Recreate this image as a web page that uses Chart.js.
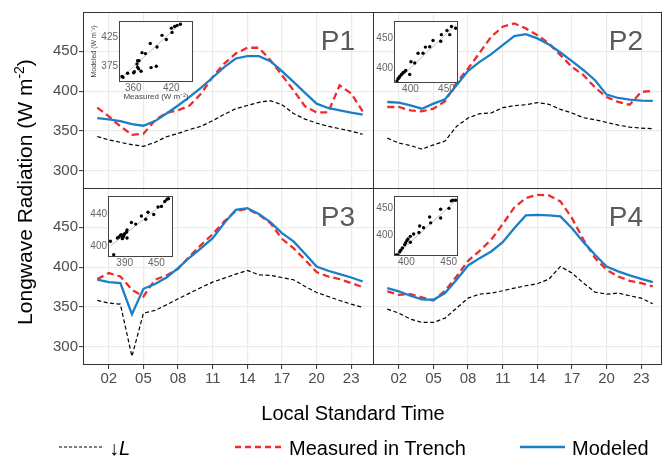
<!DOCTYPE html>
<html><head><meta charset="utf-8">
<script src="https://cdn.jsdelivr.net/npm/chart.js@4/dist/chart.umd.min.js"></script>
<style>
html,body{margin:0;padding:0;background:#fff;font-family:"Liberation Sans",Arial,sans-serif}
#root{position:relative;width:662px;height:457px;overflow:hidden;background:#fff}
canvas{position:absolute}
.txt{position:absolute;white-space:nowrap;color:#000;font-family:"Liberation Sans",Arial,sans-serif}
</style></head><body><div id="root">
<div id="overlay" style="position:absolute;left:0;top:0;width:662px;height:457px;pointer-events:none;z-index:3">
  <div class="txt" style="left:-125px;top:180px;width:300px;text-align:center;font-size:21px;line-height:24px;transform:rotate(-90deg)">Longwave Radiation (W m<sup style="font-size:14px;line-height:0">-2</sup>)</div>
  <div class="txt" style="left:203px;top:401px;width:300px;text-align:center;font-size:20px;line-height:24px">Local Standard Time</div>
  <svg style="position:absolute;left:0;top:436px" width="662" height="22">
    <line x1="59" y1="11" x2="103" y2="11" stroke="#000" stroke-width="1.2" stroke-dasharray="3,2"/>
    <line x1="235" y1="11" x2="281" y2="11" stroke="#ee2c2c" stroke-width="2.3" stroke-dasharray="6,4"/>
    <line x1="520" y1="11" x2="565" y2="11" stroke="#1b7fc8" stroke-width="2.3"/>
  </svg>
  <div class="txt" style="left:109px;top:437px;font-size:20px;line-height:22px">↓<i>L</i></div>
  <div class="txt" style="left:289px;top:437px;font-size:20px;line-height:22px">Measured in Trench</div>
  <div class="txt" style="left:572px;top:437px;font-size:20px;line-height:22px">Modeled</div>
</div>
</div>
<script>
// ---------- data ----------
const hours = [1,2,3,4,5,6,7,8,9,10,11,12,13,14,15,16,17,18,19,20,21,22,23,24];
const xTickHours = [2,5,8,11,14,17,20,23];
const xTickLabels = ['02','05','08','11','14','17','20','23'];
const yTickValues = [300,350,400,450];

const p1Down = [343.3,339,336,333,331,336,343,347,352,356,363,371,378,382,386,388,383,372,365,360,356,353,350,346];
const p1Meas = [379.3,368.4,355.9,345.4,346.7,363.4,373,376,382,396.9,417.8,434.5,447,454.2,454.2,438.7,419.9,401,381,373.4,373.4,407.3,397,374.7];
const p1Mod  = [366.3,364.6,362.5,358.8,356.7,362.5,372,382,392.7,404.4,417,430,440.8,443.7,443.7,437.4,425,411.5,397.7,384.3,378.9,376,373,370.5];

const p2Down = [341.2,335,332,327.4,332.8,337.5,355.9,366.3,371.8,372.6,379.3,381.8,383,385.6,383.5,377.2,372.6,366.7,364.2,360.9,357.5,355,353.8,352.9];
const p2Meas = [380.1,380.1,376,374.7,378,387.2,410.3,428.2,447.9,468,480.5,484.7,478.4,470,459.6,445,430.3,419.9,404.4,392.7,386.4,383,399,400.2];
const p2Mod  = [386.4,385.6,382.2,378,384.3,389.8,407.3,425.3,436.6,446.2,457.5,468.8,471.3,465.9,458.4,448.3,437.4,426.1,413.6,395.6,391.4,389.3,388.1,387.7];

const p3Down = [358.3,355,353.7,288.3,342.5,345.8,352.9,360.4,367.5,374.6,381.2,386.2,391.2,395.8,390.4,389.6,387,384.2,375.8,368.3,363.3,358.3,353.7,349.6];
const p3Meas = [385,392.5,388.3,371.7,363.3,384.2,389.6,397.9,413.3,427.9,441.2,457.1,470.4,472.9,465.4,455,435.4,423.7,409.2,393.7,388.3,385,380,375];
const p3Mod  = [384.2,381.2,380,341.2,372.9,378.8,387,398.8,412,423.7,436.2,455,471.7,473.8,466.3,456.2,442.5,432.1,416.7,400.8,395.4,391.2,387,382];

const p4Down = [347.5,342.5,335,330.8,330.8,336.2,348.7,361.2,366.2,367.5,370.4,373.7,376.7,379.2,385,400.8,392.5,380,368.7,366.2,367.5,364.2,361.2,354.2];
const p4Meas = [369.6,365.4,366.2,362.1,358.3,370.4,388.3,407.9,420.4,434.2,453.7,474.6,486.2,490.4,489.6,482.1,461.2,434.2,411.2,396.7,388.3,382.9,380,375.8];
const p4Mod  = [373.7,369.6,364.2,359.6,359.2,367.5,384.2,402.1,411.2,419.6,431.2,448.7,464.6,465.4,464.6,463.3,448.7,431.2,415.4,400.8,394.6,389.6,385.4,381.2];

// inset scatter: measured (x) vs modeled (y)
const in1Meas = [342.2,343.7,351,360.5,361.6,366.8,369,365.8,366.8,368.4,372.2,373.7,379,386.8,388,396.3,397.4,405.3,412.1,420,421.1,429,434.2,425.2];
const in1Mod  = [357.8,356.2,363.3,364,365.7,384.5,384.5,379,373.3,370.7,366.7,398.3,396.7,414,372.8,375,407.8,427.8,420.7,440,432.8,444.5,446.7,442.8];
const in1LineX = [339.5,436], in1LineY = [354,449.5];
const in1TicksX = [360,420], in1TicksY = [375,425];

const in2Meas = [381.4,382.8,385.1,387.5,389.7,393.5,399,400.8,406,410.6,417.5,420.8,426.8,431.4,442.1,443,450.8,454.6,457,462.9,384.2,391.7];
const in2Mod  = [377.7,381.7,385.5,388.8,391.7,395.5,388.8,410.5,408.3,425,425,435.5,436,446.7,445.5,456.7,463.8,456.7,470.5,467.7,383.3,393.3];
const in2LineX = [380.6,462.9], in2LineY = [377.2,473.3];
const in2TicksX = [400,450], in2TicksY = [400,450];

const in3Meas = [362.9,369.2,376.2,379.2,381.9,383.8,385.6,386.8,388.1,390,393.2,394.4,394.4,402.7,410.8,421.6,429.8,434.1,444.9,453.1,459.5,465.8,470.1,472.8];
const in3Mod  = [406,389.2,410,411.2,413.2,414,409.2,411.2,412.4,415.2,417.2,410,420,429.2,427.2,437.2,433.2,442,439.2,448.4,449.2,455.2,458,458.8];
const in3LineX = [363.5,475.2], in3LineY = [400.4,459.2];
const in3TicksX = [390,450], in3TicksY = [400,440];

const in4Meas = [388.2,390.1,392.1,393.3,395.3,398,399.2,400.7,401.9,404.7,404.7,408.6,414.9,415.7,420.4,427.5,428.7,440.5,440.5,450.3,453.1,455,458.2];
const in4Mod  = [362.6,362.6,368.5,371.6,375.8,381.9,385.5,389.7,392.8,386.6,397.5,401.8,404.7,416.8,413.7,433.6,422.8,448.1,431.8,449.9,463.8,465.1,465.1];
const in4LineX = [389.4,459.7], in4LineY = [364.4,466.2];
const in4TicksX = [400,450], in4TicksY = [400,450];

// ---------- rendering ----------
Chart.defaults.font.family = '"Liberation Sans", Arial, sans-serif';
const root = document.getElementById('root');
function mkCanvas(left, top, w, h, z){
  const c = document.createElement('canvas');
  c.width = w; c.height = h;
  c.style.left = left+'px'; c.style.top = top+'px';
  c.style.width = w+'px'; c.style.height = h+'px';
  c.style.zIndex = z;
  root.appendChild(c);
  return c.getContext('2d');
}
const pts = (xs, ys) => xs.map((x,i)=>({x:x, y:ys[i]}));
function noPad(s){ s.paddingTop = 0; s.paddingBottom = 0; s.paddingLeft = 0; s.paddingRight = 0; }

const panelPlugin = {
  id:'panelDecor',
  afterDraw(chart, args, opts){
    const {ctx, chartArea:a} = chart;
    ctx.save();
    ctx.strokeStyle = '#333333'; ctx.lineWidth = 1;
    ctx.strokeRect(a.left+0.5, a.top+0.5, a.right-a.left-1, a.bottom-a.top-1);
    if (opts && opts.label){
      ctx.fillStyle = '#5a5a5a';
      ctx.font = '28px "Liberation Sans", Arial, sans-serif';
      ctx.textAlign = 'right'; ctx.textBaseline = 'alphabetic';
      ctx.fillText(opts.label, a.right - 19, a.top + 38);
    }
    ctx.restore();
  }
};

const insetPlugin = {
  id:'insetDecor',
  beforeDraw(chart){
    const {ctx, chartArea:a} = chart;
    ctx.save(); ctx.fillStyle = '#ffffff';
    ctx.fillRect(a.left, a.top, a.right-a.left, a.bottom-a.top);
    ctx.restore();
  },
  afterDraw(chart){
    const {ctx, chartArea:a} = chart;
    ctx.save(); ctx.strokeStyle = '#444444'; ctx.lineWidth = 1;
    ctx.strokeRect(a.left+0.5, a.top+0.5, a.right-a.left-1, a.bottom-a.top-1);
    ctx.restore();
  }
};

function panel(p){
  const ctx = mkCanvas(p.left, p.top, p.w, p.h, 1);
  new Chart(ctx, {
    type:'scatter',
    data:{ datasets:[
      { data: pts(hours, p.mod), showLine:true, borderColor:'#1b7fc8', borderWidth:2.3, pointRadius:0, tension:0 },
      { data: pts(hours, p.meas), showLine:true, borderColor:'#ee2c2c', borderWidth:2.3, borderDash:[7,4], pointRadius:0, tension:0 },
      { data: pts(hours, p.down), showLine:true, borderColor:'#000000', borderWidth:1.2, borderDash:[4,2.5], pointRadius:0, tension:0 }
    ]},
    options:{
      responsive:false, animation:false, devicePixelRatio:1,
      layout:{ padding:{ top:p.padTop, left:0, right:0, bottom:0 } },
      plugins:{ legend:{display:false}, tooltip:{enabled:false}, panelDecor:{label:p.label} },
      scales:{
        x:{ type:'linear', min:-0.239, max:p.xMax,
            afterBuildTicks:(s)=>{ s.ticks = xTickHours.map(v=>({value:v})); },
            afterFit:(s)=>{ s.height = p.xH; noPad(s); },
            border:{display:false},
            grid:{ color:'#ebebeb', lineWidth:1.2, drawTicks:p.showX, tickLength:4, tickColor:'#333333', tickWidth:1 },
            ticks:{ display:p.showX, autoSkip:false, maxRotation:0, padding:1, color:'#4d4d4d', font:{size:15},
                    callback:(v)=>xTickLabels[xTickHours.indexOf(v)] } },
        y:{ type:'linear', min:277.6, max:498.9,
            afterBuildTicks:(s)=>{ s.ticks = yTickValues.map(v=>({value:v})); },
            afterFit:(s)=>{ s.width = p.yW; noPad(s); },
            border:{display:false},
            grid:{ color:'#ebebeb', lineWidth:1.2, drawTicks:p.showY, tickLength:4, tickColor:'#333333', tickWidth:1 },
            ticks:{ display:p.showY, autoSkip:false, padding:1, color:'#4d4d4d', font:{size:15} } }
      }
    },
    plugins:[panelPlugin]
  });
}

function inset(q){
  const ctx = mkCanvas(q.fl - q.yW, q.ft - 2, q.fw + q.yW + 4, q.fh + 2 + q.xH, 2);
  const titles = !!q.titles;
  new Chart(ctx, {
    type:'scatter',
    data:{ datasets:[
      { data: pts(q.mx, q.my), pointRadius:1.7, pointBackgroundColor:'#000', pointBorderWidth:0, showLine:false },
      { data: pts(q.lx, q.ly), showLine:true, borderColor:'#bdbdbd', borderWidth:1, pointRadius:0 }
    ]},
    options:{
      responsive:false, animation:false, devicePixelRatio:1,
      layout:{ padding:{ top:2, right:4, left:0, bottom:0 } },
      plugins:{ legend:{display:false}, tooltip:{enabled:false} },
      scales:{
        x:{ type:'linear', min:q.xr[0], max:q.xr[1],
            afterBuildTicks:(s)=>{ s.ticks = q.tx.map(v=>({value:v})); },
            afterFit:(s)=>{ s.height = q.xH; noPad(s); },
            border:{display:false}, grid:{display:false, drawTicks:false},
            ticks:{ autoSkip:false, maxRotation:0, padding:0, color:'#666666', font:{size:10} },
            title:{ display:titles, text:'Measured (W m\u207B\u00B2)', color:'#444', font:{size:8}, padding:0 } },
        y:{ type:'linear', min:q.yr[0], max:q.yr[1],
            afterBuildTicks:(s)=>{ s.ticks = q.ty.map(v=>({value:v})); },
            afterFit:(s)=>{ s.width = q.yW; noPad(s); },
            border:{display:false}, grid:{display:false, drawTicks:false},
            ticks:{ autoSkip:false, padding:1, color:'#666666', font:{size:10} },
            title:{ display:titles, text:'Modeled (W m\u207B\u00B2)', color:'#444', font:{size:7}, padding:0 } }
      }
    },
    plugins:[insetPlugin]
  });
}

panel({label:'P1', down:p1Down, meas:p1Meas, mod:p1Mod, left:0,   top:0,   w:374, h:189, padTop:12, yW:83, xH:0,  xMax:24.977, showX:false, showY:true});
panel({label:'P2', down:p2Down, meas:p2Meas, mod:p2Mod, left:373, top:0,   w:289, h:189, padTop:12, yW:0,  xH:0,  xMax:24.8,   showX:false, showY:false});
panel({label:'P3', down:p3Down, meas:p3Meas, mod:p3Mod, left:0,   top:188, w:374, h:207, padTop:0,  yW:83, xH:30, xMax:24.977, showX:true,  showY:true});
panel({label:'P4', down:p4Down, meas:p4Meas, mod:p4Mod, left:373, top:188, w:289, h:207, padTop:0,  yW:0,  xH:30, xMax:24.8,   showX:true,  showY:false});

inset({fl:119, ft:19,  fw:74, fh:63, yW:29, xH:20, titles:true, mx:in1Meas, my:in1Mod, lx:in1LineX, ly:in1LineY, xr:[337.4,454.2], yr:[348.3,452.2], tx:in1TicksX, ty:in1TicksY});
inset({fl:394, ft:19,  fw:64, fh:64, yW:19, xH:13, mx:in2Meas, my:in2Mod, lx:in2LineX, ly:in2LineY, xr:[377.2,466.1], yr:[374.3,480], tx:in2TicksX, ty:in2TicksY});
inset({fl:108, ft:194, fw:65, fh:63, yW:19, xH:13, mx:in3Meas, my:in3Mod, lx:in3LineX, ly:in3LineY, xr:[358.4,481.4], yr:[386.4,462.1], tx:in3TicksX, ty:in3TicksY});
inset({fl:394, ft:194, fw:64, fh:62, yW:19, xH:13, mx:in4Meas, my:in4Mod, lx:in4LineX, ly:in4LineY, xr:[385.4,461], yr:[360.8,473], tx:in4TicksX, ty:in4TicksY});
</script>
</body></html>
